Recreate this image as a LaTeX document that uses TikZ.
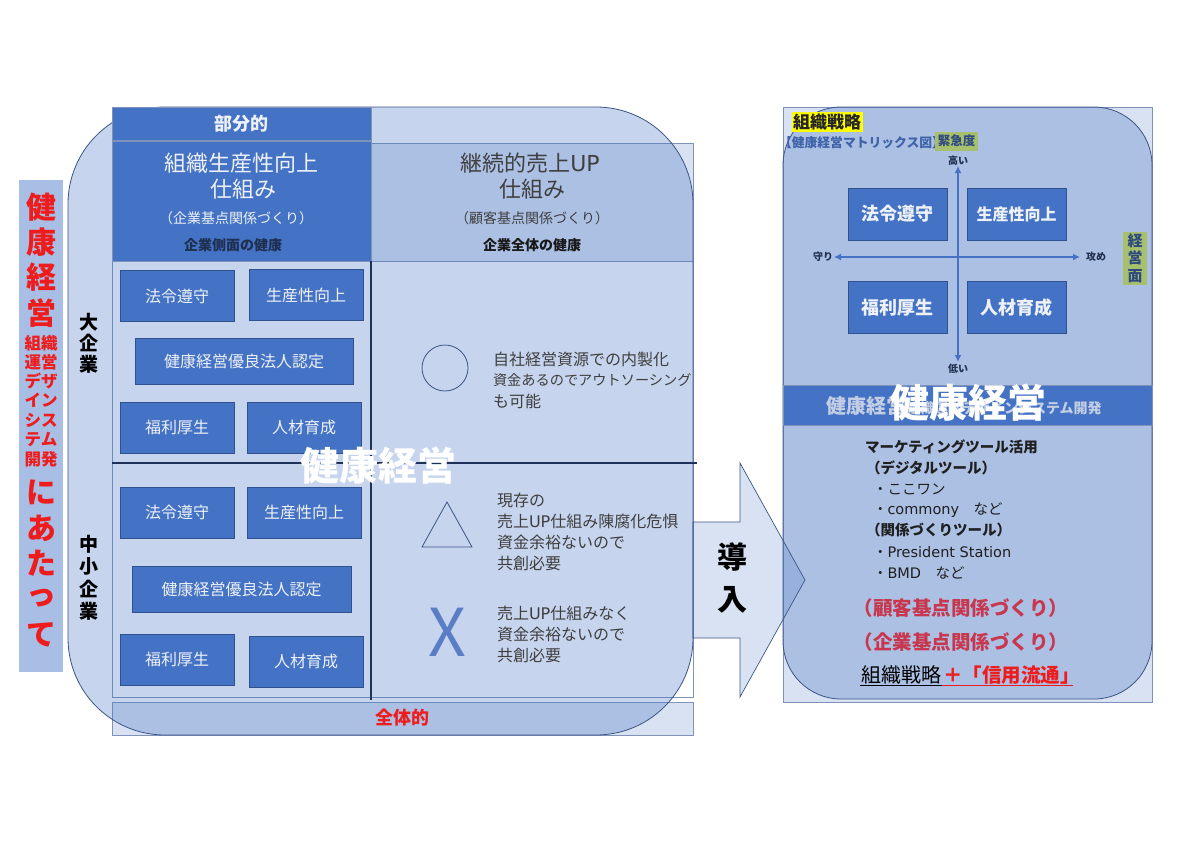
\documentclass[tikz,border=0pt]{standalone}
\usepackage{fontspec}
\setmainfont{Noto Sans CJK JP}
\newfontfamily\lat{DejaVu Sans}
\usetikzlibrary{arrows.meta}
\definecolor{mb}{HTML}{4472C4}
\definecolor{edgeb}{HTML}{2F528F}
\definecolor{rline}{HTML}{7F93B8}
\definecolor{oline}{HTML}{3B5585}
\definecolor{navy}{HTML}{1F2F4F}
\definecolor{gline}{HTML}{1F3158}
\definecolor{boxtxt}{HTML}{EEF2F8}
\definecolor{titlebg}{HTML}{A8BEE4}
\definecolor{redt}{HTML}{EE1C1C}
\definecolor{crim}{HTML}{C8374E}
\definecolor{grayt}{HTML}{3F3F3F}
\definecolor{hily}{HTML}{FFFF00}
\definecolor{hig}{HTML}{A6C06E}
\definecolor{bandt}{HTML}{C3CEE5}
\definecolor{xcol}{HTML}{5A7EC6}
\definecolor{mtxt}{HTML}{3F63A8}
\definecolor{gtxt}{HTML}{2F4A80}
\newcommand\fsz[1]{\fontsize{#1}{#1}\selectfont}
\begin{document}
\begin{tikzpicture}[x=1pt,y=-1pt,
 every node/.style={inner sep=0pt,outer sep=0pt},
 dbox/.style={draw=edgeb,line width=0.7pt,fill=mb,text=boxtxt,font=\fsz{16}},
 sbox/.style={dbox,minimum width=114pt,minimum height=51pt},
 mbox/.style={draw=edgeb,line width=0.7pt,fill=mb,text=boxtxt,font=\bfseries\fsz{18},minimum width=99pt,minimum height=52pt},
 lite/.style={draw=rline,line width=0.7pt,fill=mb,fill opacity=0.2,text opacity=1},
 roundsh/.style={draw=oline,line width=0.8pt,fill=mb,fill opacity=0.3},
 ttl/.style={text=redt,font=\bfseries\fsz{30}},
 ttls/.style={text=redt,font=\bfseries\fsz{16.5}},
 side/.style={text=black,font=\bfseries\fsz{19}},
 celltxt/.style={text=grayt,font=\fsz{16},anchor=west},
 axis/.style={draw=mb,line width=2pt,{Latex[length=7pt,width=7pt]}-{Latex[length=7pt,width=7pt]}},
 axl/.style={text=navy,font=\bfseries\fsz{10}},
 listt/.style={text=black!88,anchor=west,font=\fsz{14.5}},
 listb/.style={listt,font=\bfseries\fsz{14.5}},
]
\fill[white] (0,0) rectangle (1200,849);
\useasboundingbox (0,0) rectangle (1200,849);

% left title column
\node[fill=titlebg,minimum width=44pt,minimum height=492pt] (tcol) at (41,426) {};
\foreach \t/\yy in {健/207,康/242,経/277,営/313,に/492,あ/528,た/563,っ/598,て/635}
  \node[ttl] (tt\yy) at (41,\yy) {\t};
\foreach \t/\yy in {組織/343,運営/362,デザ/381,イン/400,シス/420,テム/440,開発/459}
  \node[ttls] (ts\yy) at (41,\yy) {\t};

% under rectangles
\draw[rline,line width=0.7pt] (112,261) rectangle (693,697);
\node[lite,minimum width=322pt,minimum height=118pt] (rhead) at (532,202) {};
\node[lite,minimum width=581pt,minimum height=33pt] (allbar) at (402.5,718.5) {};
\path[lite] (783,107) rectangle (1152,702);

% rounded shapes
\path[roundsh,rounded corners=97pt] (68,107) rectangle (693,735);
\path[roundsh,rounded corners=58pt] (783,107) rectangle (1152,699);

% arrow
\path[lite,draw=oline] (693,522) -- (740,522) -- (740,463) -- (805,580) -- (740,697) -- (740,638) -- (693,638) -- cycle;
\node[text=black,font=\bfseries\fsz{30}] (dou) at (732,557) {導};
\node[text=black,font=\bfseries\fsz{30}] (nyu) at (732,600) {入};

% bottom bar text
\node[text=redt,font=\bfseries\fsz{18}] (zentai) at (402,718) {全体的};

% headers
\node[dbox,draw=rline,minimum width=259pt,minimum height=33pt,font=\bfseries\fsz{18}] (bubun) at (241.5,123.5) {部分的};
\node[dbox,draw=rline,minimum width=259pt,minimum height=120pt] (lhead) at (241.5,201) {};
\node[text=boxtxt,font=\fsz{22}] (lh1) at (241.5,163) {組織生産性向上};
\node[text=boxtxt,font=\fsz{22}] (lh2) at (243,189) {仕組み};
\node[text=boxtxt,font=\fsz{14}] (lh3) at (236,218) {（企業基点関係づくり）};
\node[text=navy,font=\bfseries\fsz{14}] (lh4) at (233,245) {企業側面の健康};
\node[text=grayt,font=\fsz{22}] (rh1) at (530,163) {継続的売上{\lat UP}};
\node[text=grayt,font=\fsz{22}] (rh2) at (532,189) {仕組み};
\node[text=grayt,font=\fsz{14}] (rh3) at (532,218) {（顧客基点関係づくり）};
\node[text=black!90,font=\bfseries\fsz{14}] (rh4) at (532,245) {企業全体の健康};

% grid lines
\coordinate (vt) at (371,261); \coordinate (vb) at (371,700);
\coordinate (hl) at (112,463); \coordinate (hr) at (697,463);
\draw[gline,line width=2pt] (vt) -- (vb);
\draw[gline,line width=2pt] (hl) -- (hr);

% side labels
\foreach \t/\yy in {大/322,企/343,業/364}
  \node[side] (sa\yy) at (89,\yy) {\t};
\foreach \t/\yy in {中/544,小/566,企/589,業/611}
  \node[side] (sb\yy) at (89,\yy) {\t};

% left boxes (large)
\node[sbox] (a1) at (177,296) {法令遵守};
\node[sbox] (a2) at (306,295) {生産性向上};
\node[dbox,minimum width=218pt,minimum height=46pt] (a3) at (244,361) {健康経営優良法人認定};
\node[sbox] (a4) at (177,427.5) {福利厚生};
\node[sbox] (a5) at (304,427.5) {人材育成};
% left boxes (SME)
\node[sbox] (b1) at (177,512.5) {法令遵守};
\node[sbox] (b2) at (304,512.5) {生産性向上};
\node[dbox,minimum width=219pt,minimum height=46pt] (b3) at (241.5,589) {健康経営優良法人認定};
\node[sbox] (b4) at (177,659.5) {福利厚生};
\node[sbox] (b5) at (306,661.5) {人材育成};

% right cells
\node[circle,draw=oline,line width=0.8pt,minimum size=46pt] (circ) at (445,368) {};
\node[celltxt] (c1) at (493,359) {自社経営資源での内製化};
\node[celltxt,font=\fsz{14.2}] (c2) at (493,380) {資金あるのでアウトソーシング};
\node[celltxt] (c3) at (493,401) {も可能};
\draw[oline,line width=0.8pt] (447,502) -- (472,547) -- (422,547) -- cycle;
\node[celltxt] (d1) at (497,500) {現存の};
\node[celltxt] (d2) at (497,521) {売上{\lat UP}仕組み陳腐化危惧};
\node[celltxt] (d3) at (497,542) {資金余裕ないので};
\node[celltxt] (d4) at (497,563) {共創必要};
\node[text=xcol,font=\fsz{66}] (xmark) at (447,632) {X};
\node[celltxt] (e1) at (497,613) {売上{\lat UP}仕組みなく};
\node[celltxt] (e2) at (497,634) {資金余裕ないので};
\node[celltxt] (e3) at (497,655) {共創必要};

% center big text
\node[text=white,font=\bfseries\fsz{39}] (bigl) at (378,466) {健康経営};

% right panel top
\node[fill=hily,minimum width=71pt,minimum height=20pt,text=black!85,font=\bfseries\fsz{17}] (sosen) at (827,122) {組織戦略};
\node[anchor=west,text=mtxt,font=\bfseries\fsz{12.8}] (matt) at (779,143) {【健康経営マトリックス図】};
\node[fill=hig,minimum width=43pt,minimum height=19pt,text=gtxt,font=\bfseries\fsz{12.5}] (kinkyu) at (956.5,141) {緊急度};
\node[fill=hig,minimum width=24pt,minimum height=53pt] (keieimen) at (1135,258.5) {};
\foreach \t/\yy in {経/241,営/258,面/276}
  \node[text=gtxt,font=\bfseries\fsz{15}] (km\yy) at (1135,\yy) {\t};

\coordinate (vtop) at (958,166); \coordinate (vbot) at (958,362);
\coordinate (hlft) at (834,257); \coordinate (hrgt) at (1080,257);
\draw[axis] (vtop) -- (vbot);
\draw[axis] (hlft) -- (hrgt);
\node[axl] (takai) at (958,161) {高い};
\node[axl] (hikui) at (958,369) {低い};
\node[axl] (mamori) at (823,257) {守り};
\node[axl] (seme) at (1096,257) {攻め};

\node[mbox] (m1) at (897.5,214) {法令遵守};
\node[mbox,font=\bfseries\fsz{16}] (m2) at (1016.5,214) {生産性向上};
\node[mbox] (m3) at (897.5,307.5) {福利厚生};
\node[mbox] (m4) at (1016.5,307.5) {人材育成};

% band
\node[fill=mb,draw=rline,line width=0.7pt,minimum width=369pt,minimum height=40pt] (band) at (967.5,405) {};
\node[anchor=west,text=bandt,font=\bfseries] (bandtxt) at (826,406) {{\fsz{20}健康経営}{\fsz{14}組織運営デザインシステム開発}};
\node[text=white,font=\bfseries\fsz{39}] (bigr) at (968,403) {健康経営};

% list
\node[listb] (l1) at (865,447) {マーケティングツール活用};
\node[listb] (l2) at (866,468) {（デジタルツール）};
\node[listt] (l3) at (873,489) {・ここワン};
\node[listt] (l4) at (873,510) {・{\lat commony}　など};
\node[listb] (l5) at (866,530) {（関係づくりツール）};
\node[listt] (l6) at (873,552) {・{\lat President Station}};
\node[listt] (l7) at (873,573) {・{\lat BMD}　など};
\node[text=crim,font=\bfseries\fsz{19.5}] (kokyaku) at (961,608) {（顧客基点関係づくり）};
\node[text=crim,font=\bfseries\fsz{19.5}] (kigyo) at (961,642) {（企業基点関係づくり）};
\node[anchor=west,text=black,font=\fsz{20},inner sep=1pt] (st1) at (860,675) {組織戦略};
\node[anchor=west,text=redt,font=\bfseries\fsz{19.5},inner sep=1pt] (st2) at (st1.east) {＋「信用流通」};
\draw[black,line width=0.9pt] (st1.south west) -- (st1.south east);
\draw[redt,line width=1.3pt] (st2.south west) -- ([xshift=-8pt]st2.south east);
\end{tikzpicture}
\end{document}
